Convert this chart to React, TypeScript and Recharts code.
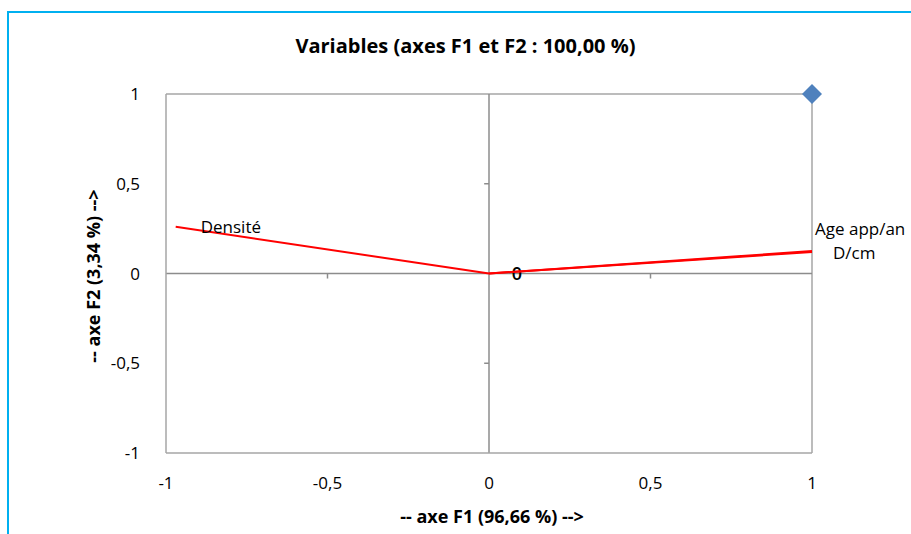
import { ScatterChart, Scatter, XAxis, YAxis, ReferenceLine } from 'recharts'

const axisTicks = [-1, -0.5, 0, 0.5, 1]
const variableNames = ['Densité', 'Age app/an', 'D/cm']
const f1Coords = [-0.97, 1.0, 1.0]
const f2Coords = [0.26, 0.125, 0.12]
const scalePoints = [{ x: 1, y: 1 }]
const originLabel = '0'

const FONT = "'Open Sans', 'Noto Sans', sans-serif"
const GRID = '#8c8c8c'
const BORDER = '#a6a6a6'

// décalages des étiquettes (px) par rapport à l'extrémité du vecteur
const labelOffsets: Record<string, [number, number]> = {
  'Densité': [25, 2],
  'Age app/an': [3, -21],
  'D/cm': [21, 2],
}

const fmt = (v: number) => String(v).replace('.', ',')

const vectors = variableNames.map((name, i) => ({
  name,
  data: [
    { x: 0, y: 0, name: i === 0 ? originLabel : '' },
    { x: f1Coords[i], y: f2Coords[i], name },
  ],
}))

const VectorEnd = (props: any) => {
  const { cx, cy, payload } = props
  if (!payload || !payload.name) return <g />
  if (payload.name === originLabel) {
    return (
      <text x={cx + 28} y={cy + 2} textAnchor="middle" dominantBaseline="middle"
        fontFamily={FONT} fontSize={18} fontWeight={600} fill="#000">{payload.name}</text>
    )
  }
  const [dx, dy] = labelOffsets[payload.name] || [5, 0]
  return (
    <text x={cx + dx} y={cy + dy} textAnchor="start" dominantBaseline="middle"
      fontFamily={FONT} fontSize={17} fill="#000">{payload.name}</text>
  )
}

const Diamond = (props: any) => {
  const { cx, cy } = props
  const r = 10
  return <polygon points={`${cx},${cy - r} ${cx + r},${cy} ${cx},${cy + r} ${cx - r},${cy}`} fill="#4F81BD" />
}

const tickStyle = { fontFamily: FONT, fontSize: 17, fill: '#000' }

export default function App() {
  return (
    <div style={{ position: 'absolute', left: 0, top: 0, width: 911, height: 534, overflow: 'hidden', background: '#fff' }}>
      <div style={{ position: 'absolute', left: 7, top: 11, width: 1000, height: 700, border: '2px solid #00B0F0' }} />
      <div style={{ position: 'absolute', left: 10, top: 33, width: 911, textAlign: 'center', fontFamily: FONT, fontWeight: 700, fontSize: 20, lineHeight: '26px' }}>
        Variables (axes F1 et F2 : 100,00 %)
      </div>
      <div style={{ position: 'absolute', left: 492, top: 504, transform: 'translateX(-50%)', whiteSpace: 'nowrap', fontFamily: FONT, fontWeight: 700, fontSize: 18, lineHeight: '24px' }}>
        -- axe F1 (96,66 %) --&gt;
      </div>
      <div style={{ position: 'absolute', left: 93, top: 276, transform: 'translate(-50%, -50%) rotate(-90deg)', whiteSpace: 'nowrap', fontFamily: FONT, fontWeight: 700, fontSize: 18, lineHeight: '24px' }}>
        -- axe F2 (3,34 %) --&gt;
      </div>
      <ScatterChart width={911} height={534} margin={{ top: 94, right: 99, bottom: 51, left: 106 }} style={{ position: 'absolute', left: 0, top: 0 }}>
        <XAxis type="number" dataKey="x" domain={[-1, 1]} ticks={axisTicks} tickFormatter={fmt}
          height={30} tickLine={false} tickMargin={18} axisLine={{ stroke: BORDER, strokeWidth: 1.5 }} tick={tickStyle} />
        <YAxis type="number" dataKey="y" domain={[-1, 1]} ticks={axisTicks} tickFormatter={fmt}
          width={60} tickLine={false} tickMargin={20} axisLine={{ stroke: BORDER, strokeWidth: 1.5 }} tick={tickStyle} />
        <ReferenceLine y={1} stroke={BORDER} strokeWidth={1.5} />
        <ReferenceLine x={1} stroke={BORDER} strokeWidth={1.5} />
        <ReferenceLine y={0} stroke={GRID} strokeWidth={1.5} />
        <ReferenceLine x={0} stroke={GRID} strokeWidth={1.5} />
        {axisTicks.filter((t) => t !== 0 && Math.abs(t) !== 1).map((t) => (
          <ReferenceLine key={`tx${t}`} segment={[{ x: t, y: 0 }, { x: t, y: -0.028 }]} stroke={GRID} strokeWidth={1.5} />
        ))}
        {axisTicks.filter((t) => t !== 0 && Math.abs(t) !== 1).map((t) => (
          <ReferenceLine key={`ty${t}`} segment={[{ x: -0.015, y: t }, { x: 0, y: t }]} stroke={GRID} strokeWidth={1.5} />
        ))}
        {vectors.map((v) => (
          <Scatter key={v.name} data={v.data} line={{ stroke: '#FF0000', strokeWidth: 2 }}
            shape={VectorEnd} isAnimationActive={false} />
        ))}
        <Scatter data={scalePoints} shape={Diamond} isAnimationActive={false} />
      </ScatterChart>
    </div>
  )
}
